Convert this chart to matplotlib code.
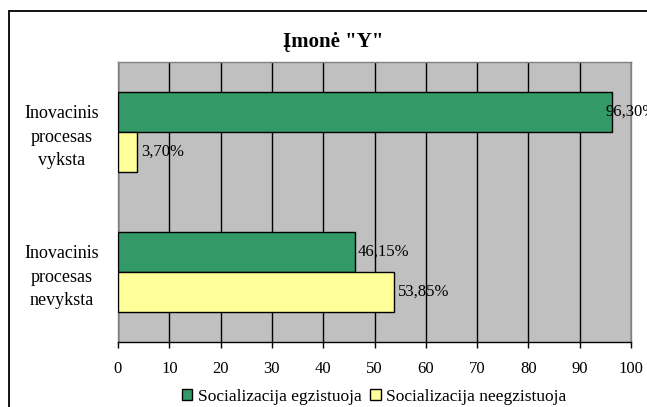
import numpy as np
import matplotlib.pyplot as plt
from matplotlib.patches import Rectangle

## data
categories = ['Inovacinis\nprocesas\nnevyksta', 'Inovacinis\nprocesas\nvyksta']
series_names = ['Socializacija egzistuoja', 'Socializacija neegzistuoja']
exists = [46.15, 96.30]       # green
not_exists = [53.85, 3.70]    # yellow
title = 'Įmonė "Y"'
xticks = list(range(0, 101, 10))

GREEN = '#339966'
YELLOW = '#FFFF99'
GREY = '#C0C0C0'

plt.rcParams['font.family'] = ['Liberation Serif', 'DejaVu Serif']

fig = plt.figure(figsize=(6.47, 4.07), dpi=100)
W, H = 647, 407
# plot area in pixel coords
left, right, top, bottom = 118, 631, 62, 342
ax = fig.add_axes([left / W, 1 - bottom / H, (right - left) / W, (bottom - top) / H])

# outer chart frame (runs off the right and bottom edges)
fig.patches.append(Rectangle((9 / W, -0.05), 1.0, 1.05 - 11 / H,
                             transform=fig.transFigure, fill=False,
                             edgecolor='black', linewidth=1.3))

y = np.arange(len(categories))
h = 0.286
b1 = ax.barh(y + h / 2, exists, height=h, color=GREEN, edgecolor='black',
             linewidth=1, label=series_names[0], zorder=3)
b2 = ax.barh(y - h / 2, not_exists, height=h, color=YELLOW, edgecolor='black',
             linewidth=1, label=series_names[1], zorder=3)

# value labels, just right of the bar end (last one pulled back a bit)
def fmt(v):
    return ('%.2f%%' % v).replace('.', ',')

for bars, vals, offs in [(b1, exists, [3, -7]), (b2, not_exists, [4, 4])]:
    for bar, v, o in zip(bars, vals, offs):
        ax.annotate(fmt(v), (v, bar.get_y() + bar.get_height() / 2),
                    xytext=(o, 0), textcoords='offset pixels',
                    ha='left', va='center', fontsize=12, zorder=4,
                    annotation_clip=False)

ax.set_xlim(0, 100)
ax.set_ylim(-0.5, 1.5)
ax.set_facecolor(GREY)
ax.set_xticks(xticks)
ax.xaxis.grid(True, color='black', linewidth=1)
ax.set_axisbelow(True)
ax.set_yticks(y)
ax.set_yticklabels(categories, multialignment='center', linespacing=1.5)
ax.tick_params(axis='y', length=0, pad=14, labelsize=13)
ax.tick_params(axis='x', length=4, width=1, pad=10, labelsize=12, color='black')
for s in ['top', 'right', 'left']:
    ax.spines[s].set_color('#808080')
    ax.spines[s].set_linewidth(1)
ax.spines['bottom'].set_color('black')
ax.spines['bottom'].set_linewidth(1)

fig.text(333 / W, 1 - 42 / H, title, ha='center', va='center',
         fontsize=15, fontweight='bold')

fig.legend(handles=[b1, b2], loc='center', bbox_to_anchor=(374 / W, 1 - 397 / H),
           ncol=2, frameon=False, fontsize=12.5, handlelength=0.6,
           handleheight=0.6, handletextpad=0.3, columnspacing=0.5,
           borderpad=0)

fig.savefig('out.png', dpi=100)
